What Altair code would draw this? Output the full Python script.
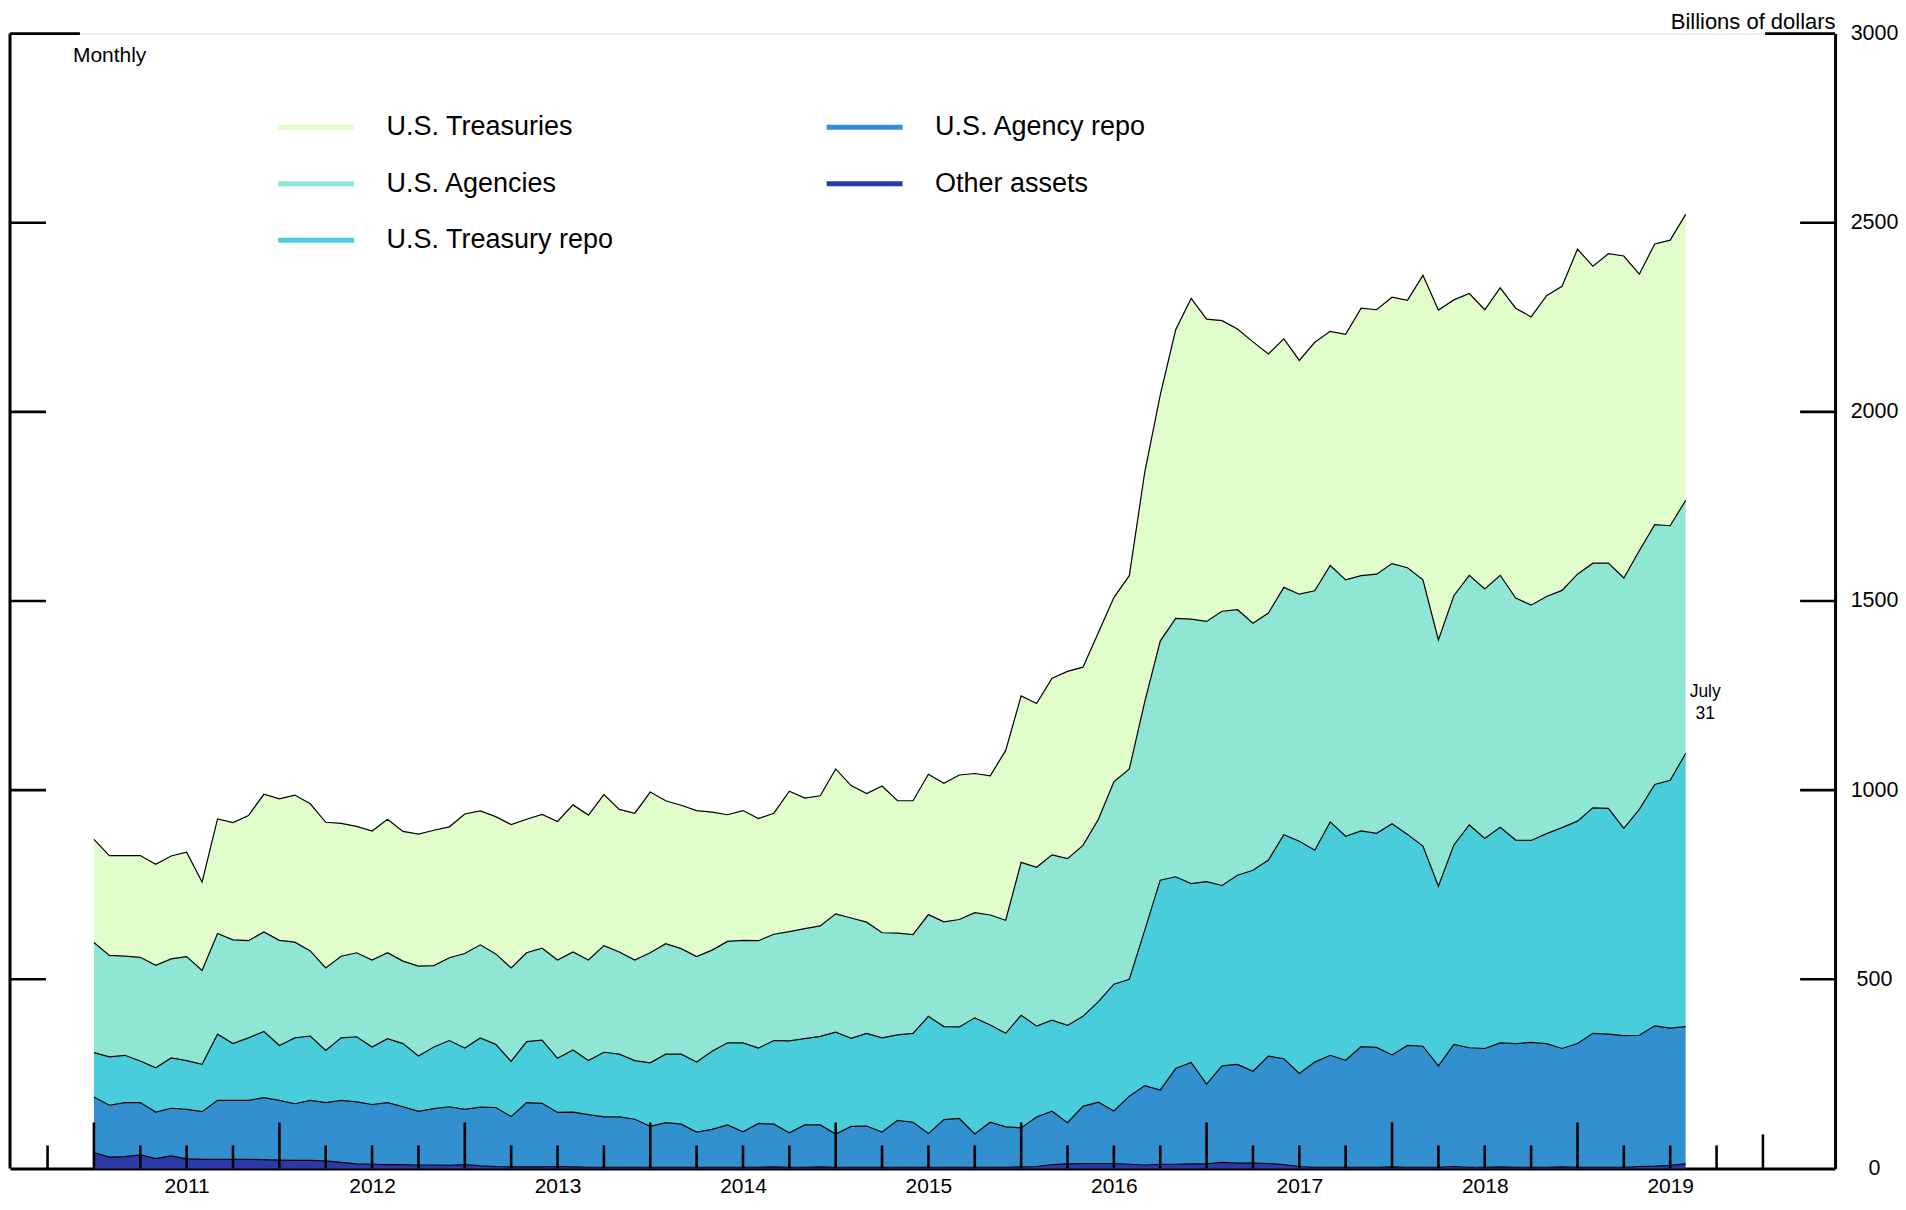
import altair as alt
import pandas as pd

# ---------------------------------------------------------------
# Monthly observations, January 2011 .. July 2019 (104 months).
# Values are the top edge of each stacked layer (billions of dollars),
# read off the reference chart.
# ---------------------------------------------------------------
months = pd.date_range("2011-01-01", periods=104, freq="MS")

other_assets_top = [
    42, 30, 31, 36, 26, 33, 25, 24, 24, 24, 24, 23, 22, 21, 21, 20, 16, 12, 11, 10,
    10, 9, 9, 8, 10, 7, 5, 4, 4, 4, 5, 4, 3, 3, 3, 3, 3, 3, 3, 3,
    3, 3, 3, 3, 4, 3, 3, 4, 3, 3, 3, 3, 3, 3, 3, 3, 3, 3, 3, 3,
    4, 5, 10, 12, 13, 13, 13, 11, 9, 11, 11, 12, 12, 16, 14, 14, 13, 10, 5, 3,
    3, 3, 3, 3, 4, 3, 3, 3, 5, 3, 3, 4, 3, 3, 3, 4, 3, 3, 3, 3, 5, 6, 8, 12,
]
us_agency_repo_top = [
    189, 167, 174, 174, 149, 159, 156, 150, 180, 180, 180, 187, 180, 171, 180, 174, 180, 176, 169, 174,
    163, 151, 158, 163, 156, 162, 161, 137, 174, 172, 148, 149, 142, 136, 136, 130, 111, 121, 117, 96,
    103, 115, 97, 119, 117, 94, 115, 115, 91, 111, 112, 96, 127, 122, 92, 129, 132, 91, 122, 110,
    107, 136, 151, 121, 164, 175, 152, 191, 219, 207, 264, 280, 223, 271, 275, 257, 297, 290,
    251, 281, 299, 286, 322, 320, 300, 325, 323, 271, 328, 319, 317, 332, 330, 333, 330, 317, 330, 357,
    355, 351, 352, 377, 371, 375,
]
us_treasury_repo_top = [
    306, 295, 299, 284, 266, 292, 285, 275, 355, 330, 345, 362, 325, 345, 350, 312, 345, 348, 321, 343,
    330, 297, 321, 338, 318, 345, 328, 283, 335, 339, 291, 313, 285, 307, 302, 285, 279, 302, 302, 281,
    310, 332, 332, 318, 338, 337, 343, 349, 360, 344, 357, 345, 353, 357, 402, 375, 374, 398, 379, 357,
    405, 376, 392, 378, 402, 441, 487, 500, 630, 762, 771, 753, 758, 748, 775, 788, 815, 882,
    865, 841, 916, 878, 892, 886, 911, 883, 852, 746, 855, 908, 872, 902, 868, 867, 885, 901, 918, 953,
    952, 899, 949, 1015, 1026, 1097,
]
us_agencies_top = [
    597, 563, 561, 558, 537, 554, 560, 523, 621, 604, 602, 625, 603, 598, 575, 530, 561, 570, 551, 570,
    548, 535, 536, 557, 568, 591, 567, 530, 570, 582, 551, 572, 551, 589, 572, 551, 570, 594, 581, 560,
    577, 600, 603, 602, 619, 626, 634, 641, 673, 662, 651, 623, 622, 618, 671, 652, 658, 676, 670, 656,
    809, 796, 829, 819, 854, 923, 1022,
    1056, 1234, 1394, 1454, 1452, 1446, 1473, 1477, 1441, 1468, 1536, 1518, 1527,
    1594, 1556, 1567, 1571, 1599, 1588, 1556, 1397, 1514, 1568, 1532, 1568, 1508, 1489, 1512, 1528,
    1571, 1600, 1600, 1561, 1633, 1702, 1699, 1766,
]
us_treasuries_top = [
    870, 827, 827, 827, 804, 826, 836, 757, 924, 914, 933, 989, 977, 987, 964, 915, 912, 904, 892, 923,
    891, 884, 894, 903, 937, 945, 930, 909, 923, 936, 917, 961, 934, 988, 949, 939, 995, 972, 960, 946,
    942, 935, 946, 925, 939, 997, 979, 985,
    1056, 1012, 991, 1011, 972, 972, 1042, 1018, 1040, 1044, 1038, 1105, 1249, 1229, 1296, 1314, 1325,
    1417, 1509, 1567, 1841, 2044, 2217, 2300, 2245, 2241, 2219, 2185, 2153, 2193, 2136, 2184,
    2213, 2205, 2274, 2270, 2303, 2295, 2361, 2269, 2296, 2313, 2270, 2328, 2274, 2251, 2307, 2332,
    2430, 2385, 2418, 2412, 2364, 2444, 2454, 2522,
]

series_names = ["U.S. Treasuries", "U.S. Agencies", "U.S. Treasury repo",
                "U.S. Agency repo", "Other assets"]
series_colors = ["#e0fdcb", "#8fe6d4", "#4acddb", "#3390d0", "#2b3aa6"]

year_labels = [2011, 2012, 2013, 2014, 2015, 2016, 2017, 2018, 2019]
y_tick_values = [0, 500, 1000, 1500, 2000, 2500, 3000]

bounds = {
    "U.S. Treasuries": (us_agencies_top, us_treasuries_top),
    "U.S. Agencies": (us_treasury_repo_top, us_agencies_top),
    "U.S. Treasury repo": (us_agency_repo_top, us_treasury_repo_top),
    "U.S. Agency repo": (other_assets_top, us_agency_repo_top),
    "Other assets": ([0] * len(months), other_assets_top),
}
rows = []
for name in series_names:
    lo, hi = bounds[name]
    for i, m in enumerate(months):
        rows.append({"series": name, "t": m.year + (m.month - 1) / 12.0,
                     "lower": lo[i], "upper": hi[i]})
df = pd.DataFrame(rows)

FONT = "Liberation Sans"
W, H = 1827, 1136
xscale = alt.Scale(domain=[2010.5475, 2020.389], nice=False, zero=False)
yscale = alt.Scale(domain=[0, 3000], nice=False, zero=False)

x_axis = alt.Axis(values=[y + 0.5 for y in year_labels],
                  labelExpr="floor(datum.value)",
                  ticks=False, tickSize=0, grid=False,
                  domainColor="black", domainWidth=3,
                  labelFont=FONT, labelFontSize=21, labelColor="black",
                  labelPadding=24, labelBaseline="alphabetic",
                  labelFlush=False, labelOverlap=False, title=None)
y_axis = alt.Axis(orient="right", values=y_tick_values, format="d",
                  ticks=False, tickSize=0, grid=False,
                  domainColor="black", domainWidth=3,
                  labelFont=FONT, labelFontSize=21.5, labelColor="black",
                  labelAlign="center", labelBaseline="middle",
                  labelPadding=39, labelFlush=False,
                  title="Billions of dollars", titleAngle=0,
                  titleAlign="right", titleBaseline="alphabetic",
                  titleX=0, titleY=-5, titleFont=FONT,
                  titleFontSize=22, titleFontWeight="normal",
                  titleColor="black")


def X(field):
    return alt.X(field, scale=xscale, axis=x_axis, title=None)


def Y(field):
    return alt.Y(field, scale=yscale, axis=y_axis, title="Billions of dollars")


# fill scale listed bottom-up so that it stays separate from the legend scale
areas = alt.Chart(df).mark_area(interpolate="linear", opacity=1).encode(
    x=X("t:Q"),
    y=Y("upper:Q"),
    y2=alt.Y2("lower:Q"),
    fill=alt.Fill("series:N",
                  scale=alt.Scale(domain=series_names[::-1], range=series_colors[::-1]),
                  legend=None),
)

edges = alt.Chart(df).mark_line(color="black", strokeWidth=1.2).encode(
    x=X("t:Q"),
    y=Y("upper:Q"),
    detail="series:N",
)

legend_df = df[df["t"] == df["t"].min()]
legend_layer = alt.Chart(legend_df).mark_line(strokeWidth=5).encode(
    x=X("t:Q"),
    y=Y("upper:Q"),
    stroke=alt.Stroke(
        "series:N",
        scale=alt.Scale(domain=series_names, range=series_colors),
        legend=alt.Legend(orient="none", legendX=266, legendY=53,
                          direction="vertical", columns=2, title=None,
                          symbolType="stroke", symbolSize=5776,
                          symbolStrokeWidth=5, symbolOpacity=1,
                          labelFont=FONT, labelFontSize=27, labelColor="black",
                          labelLimit=600, labelOffset=30,
                          rowPadding=2.7, columnPadding=202, padding=0),
    ),
)

# x-axis ticks (drawn inward)
minor_ticks = [y + q / 4.0 for y in [2010] + year_labels for q in (1, 2, 3)
               if 2010.6 < y + q / 4.0 < 2020]
major_ticks = [float(y) for y in year_labels]
end_ticks = [2020.0]


def xticks(vals, length):
    return alt.Chart(pd.DataFrame({"t": vals})).mark_rule(
        color="black", strokeWidth=2.6).encode(
        x=X("t:Q"),
        y=alt.value(H), y2=alt.value(H - length))


def yticks(vals, x0, x1):
    return alt.Chart(pd.DataFrame({"upper": vals})).mark_rule(
        color="black", strokeWidth=2.7).encode(
        y=Y("upper:Q"),
        x=alt.value(x0), x2=alt.value(x1))


inner_vals = [v for v in y_tick_values if 0 < v < 3000]
left_ticks = yticks(inner_vals, 0, 36)
left_top = yticks([3000], 0, 70)
right_ticks = yticks(inner_vals, W, W - 35)
right_top = yticks([3000], W, W - 70)

left_axis = alt.Chart(pd.DataFrame({"a": [0]})).mark_rule(
    color="black", strokeWidth=3).encode(
    x=alt.value(0), y=alt.value(0), y2=alt.value(H))

monthly = alt.Chart(pd.DataFrame({"label": ["Monthly"]})).mark_text(
    align="left", baseline="alphabetic", font=FONT, fontSize=21, color="black").encode(
    x=alt.value(63), y=alt.value(28), text="label:N")

july = alt.Chart(pd.DataFrame({"label": ["July\n31"]})).mark_text(
    align="center", baseline="alphabetic", font=FONT, fontSize=17.5, color="black",
    lineBreak="\n", lineHeight=22).encode(
    x=alt.value(1697), y=alt.value(664), text="label:N")

chart = alt.layer(
    areas, edges, legend_layer,
    xticks(minor_ticks, 23), xticks(major_ticks, 46), xticks(end_ticks, 34),
    left_ticks, left_top, right_ticks, right_top, left_axis,
    monthly, july,
).properties(
    width=W, height=H,
    padding={"left": 2, "top": 25, "right": 63, "bottom": 28},
    autosize=alt.AutoSizeParams(type="none"),
).configure_view(strokeWidth=0, strokeOpacity=0).configure(font=FONT)

chart.save("out.html", embed_options={"renderer": "svg", "actions": False})
